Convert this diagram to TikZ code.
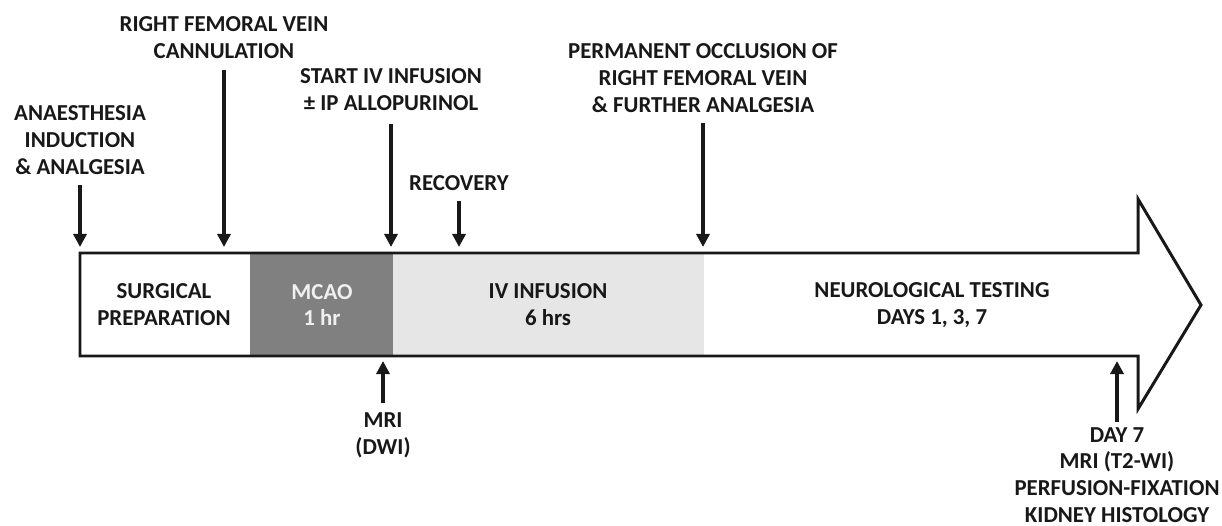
\documentclass[tikz,border=0pt]{standalone}
\usepackage{fontspec}
\setmainfont{Carlito}
\usetikzlibrary{arrows.meta,positioning,calc}
\definecolor{mcaogray}{RGB}{128,128,128}
\definecolor{infgray}{RGB}{230,230,230}
\definecolor{txtblack}{RGB}{24,24,24}

\begin{document}
\begin{tikzpicture}[x=0.02cm,y=-0.02cm,
	lbl/.style={font=\bfseries\fontsize{13}{15.3}\selectfont,align=center,text=txtblack,inner sep=0pt},
	evt/.style={-{Triangle[length=7.5pt,width=7.5pt]},line width=2.3pt,txtblack}]
	\useasboundingbox (0,0) rectangle (1222,526);
	% phases on the time line
	\fill[mcaogray] (250,253) rectangle (393,356);
	\fill[infgray] (393,253) rectangle (704,356);
	\draw[line width=1.7pt,line join=miter,txtblack] (80,253) -- (1138,253) -- (1138,199) -- (1201,305)
		-- (1138,409) -- (1138,356) -- (80,356) -- cycle;
	\coordinate (bartop) at (0,247);
	\coordinate (barbot) at (0,361);
	% labels inside the arrow
	\node[lbl] (surg) at (164,305) {SURGICAL\\PREPARATION};
	\node[lbl,text=white!94!black] (mcao) at (322,305) {MCAO\\1 hr};
	\node[lbl] (ivinf) at (548,305) {IV INFUSION\\6 hrs};
	\node[lbl] (neuro) at (932,305) {NEUROLOGICAL TESTING\\DAYS 1, 3, 7};
	% events above
	\node[lbl] (anaes) at (80,140) {ANAESTHESIA\\INDUCTION\\\& ANALGESIA};
	\node[lbl] (cannul) at (224,38) {RIGHT FEMORAL VEIN\\CANNULATION};
	\node[lbl] (startiv) at (391,90) {START IV INFUSION\\\textpm{} IP ALLOPURINOL};
	\node[lbl] (recov) at (459,183) {RECOVERY};
	\node[lbl] (occl) at (703,78) {PERMANENT OCCLUSION OF\\RIGHT FEMORAL VEIN\\\& FURTHER ANALGESIA};
	% events below
	\node[lbl] (mri) at (383,435) {MRI\\(DWI)};
	\node[lbl] (day7) at (1117,475) {DAY 7\\MRI (T2-WI)\\PERFUSION-FIXATION\\KIDNEY HISTOLOGY};
	% event arrows
	\draw[evt,shorten <=6pt] (anaes.south) -- (anaes.south |- bartop);
	\draw[evt,shorten <=6pt] (cannul.south) -- (cannul.south |- bartop);
	\draw[evt,shorten <=7pt] (startiv.south) -- (startiv.south |- bartop);
	\draw[evt,shorten <=6pt] (recov.south) -- (recov.south |- bartop);
	\draw[evt,shorten <=6pt] (occl.south) -- (occl.south |- bartop);
	\draw[evt,shorten <=5pt] (mri.north) -- (mri.north |- barbot);
	\draw[evt,shorten <=3pt] (day7.north) -- (day7.north |- barbot);
\end{tikzpicture}
\end{document}
